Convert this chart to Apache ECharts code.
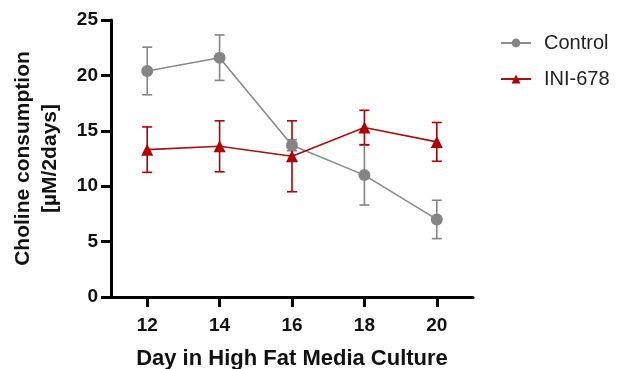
<!DOCTYPE html>
<html><head><meta charset="utf-8">
<script src="https://cdn.jsdelivr.net/npm/echarts@6/dist/echarts.min.js"></script>
<style>html,body{margin:0;padding:0;background:#fff}#c{width:620px;height:369px}</style>
</head><body><div id="c"></div>
<script>
var days = [12, 14, 16, 18, 20];
var controlMean = [20.4, 21.6, 13.7, 11.0, 7.0];
var controlErr  = [2.15, 2.05, 0.5, 2.7, 1.73];
var iniMean = [13.3, 13.6, 12.7, 15.3, 14.0];
var iniErr  = [2.05, 2.3, 3.2, 1.55, 1.75];
var yTicks = [0, 5, 10, 15, 20, 25];

var FONT = '"Liberation Sans", Arial, sans-serif';
var grayC = '#858585', redC = '#b00000';

function pts(m) { return days.map(function (d, i) { return [d, m[i]]; }); }
function errs(m, e) { return days.map(function (d, i) { return [d, m[i] - e[i], m[i] + e[i]]; }); }
function errRender(color) {
  return function (params, api) {
    var x = api.value(0);
    var lo = api.coord([x, api.value(1)]);
    var hi = api.coord([x, api.value(2)]);
    var w = 5;
    var st = { stroke: color, lineWidth: 1.6 };
    return { type: 'group', children: [
      { type: 'line', shape: { x1: lo[0], y1: lo[1], x2: hi[0], y2: hi[1] }, style: st },
      { type: 'line', shape: { x1: lo[0] - w, y1: lo[1], x2: lo[0] + w, y2: lo[1] }, style: st },
      { type: 'line', shape: { x1: hi[0] - w, y1: hi[1], x2: hi[0] + w, y2: hi[1] }, style: st }
    ]};
  };
}

var chart = echarts.init(document.getElementById('c'));
chart.setOption({
  animation: false,
  textStyle: { fontFamily: FONT },
  grid: { left: 111, right: 147, top: 20, bottom: 72, containLabel: false, outerBoundsMode: 'none' },
  legend: {
    orient: 'vertical', left: 495, top: 28, itemGap: 16,
    itemWidth: 30, itemHeight: 11,
    textStyle: { fontSize: 20, color: '#222', fontFamily: FONT, padding: [0, 0, 0, 8] },
    data: [
      { name: 'Control', itemStyle: { color: grayC } },
      { name: 'INI-678', itemStyle: { color: redC } }
    ]
  },
  xAxis: {
    type: 'value', min: 11, max: 21,
    name: 'Day in High Fat Media Culture', nameLocation: 'middle', nameGap: 51,
    nameTextStyle: { fontSize: 22, fontWeight: 'bold', color: '#111' },
    axisLine: { show: true, lineStyle: { color: '#000', width: 3 } },
    axisTick: { show: true, length: 10, lineStyle: { color: '#000', width: 3 }, customValues: days },
    axisLabel: { fontSize: 19, fontWeight: 'bold', color: '#111', margin: 19, customValues: days },
    splitLine: { show: false }
  },
  yAxis: {
    type: 'value', min: yTicks[0], max: yTicks[yTicks.length - 1], interval: 5,
    name: 'Choline consumption\n[µM/2days]', nameLocation: 'middle', nameGap: 47, nameRotate: 90,
    nameTextStyle: { fontSize: 21, fontWeight: 'bold', color: '#111', lineHeight: 27 },
    axisLine: { show: true, lineStyle: { color: '#000', width: 3 } },
    axisTick: { show: true, length: 10, lineStyle: { color: '#000', width: 3 } },
    axisLabel: { fontSize: 19, fontWeight: 'bold', color: '#111', margin: 13 },
    splitLine: { show: false }
  },
  series: [
    { type: 'custom', name: 'Control SD', renderItem: errRender(grayC), data: errs(controlMean, controlErr), z: 2 },
    { type: 'custom', name: 'INI-678 SD', renderItem: errRender(redC), data: errs(iniMean, iniErr), z: 2 },
    { type: 'line', name: 'Control', data: pts(controlMean), color: grayC, symbol: 'circle', symbolSize: 12,
      lineStyle: { color: '#8a8a8a', width: 1.6 }, itemStyle: { color: grayC }, z: 3 },
    { type: 'line', name: 'INI-678', data: pts(iniMean), color: redC, symbol: 'triangle', symbolSize: 12,
      lineStyle: { color: '#a51010', width: 1.6 }, itemStyle: { color: redC }, z: 4 }
  ]
});
</script></body></html>
